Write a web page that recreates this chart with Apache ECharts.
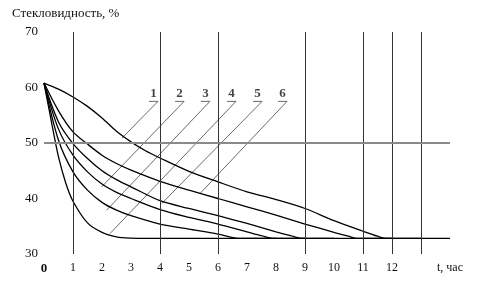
<!DOCTYPE html>
<html>
<head>
<meta charset="utf-8">
<script src="https://cdn.jsdelivr.net/npm/echarts@6/dist/echarts.min.js"></script>
<style>html,body{margin:0;padding:0;background:#fff}#c{width:480px;height:290px}</style>
</head>
<body>
<div id="c"></div>
<script>
// Curves: [t (hours), vitreousness %], named by their labels on the chart
var curve1 = [[0,60.8],[0.5,59.7],[1,58.3],[1.5,56.6],[2,54.5],[2.5,52.1],[3,50.2],[3.5,48.6],[4,47.3],[5,44.9],[6,43.0],[7,41.2],[8,39.8],[9,38.2],[10,36.0],[11,34.1],[11.5,33.2],[11.8,32.8],[13,32.8]];
var curve6 = [[0,60.8],[0.5,55.8],[1,52.0],[1.5,49.8],[2,47.8],[2.5,46.3],[3,45.1],[4,43.1],[5,41.5],[6,40.0],[7,38.5],[8,37.0],[9,35.4],[10,33.9],[10.5,33.2],[10.8,32.8],[12,32.8]];
var curve5 = [[0,60.8],[0.5,53.8],[1,49.9],[1.5,47.2],[2,45.0],[2.5,43.4],[3,42.1],[4,39.6],[5,38.2],[6,36.9],[7,35.5],[8,34.0],[8.5,33.3],[8.9,32.8],[10,32.8]];
var curve2 = [[0,60.8],[0.5,52.5],[1,47.8],[1.5,44.8],[2,42.6],[2.5,41.1],[3,40.0],[4,38.0],[5,36.6],[6,35.4],[7,34.0],[7.5,33.3],[7.9,32.8],[9,32.8]];
var curve3 = [[0,60.8],[0.5,50.5],[1,44.8],[1.5,41.5],[2,39.3],[2.5,37.9],[3,36.9],[4,35.4],[5,34.5],[6,33.6],[6.4,33.1],[6.7,32.8],[8,32.8]];
var curve4 = [[0,60.8],[0.25,54.0],[0.5,47.5],[0.75,42.8],[1,39.5],[1.5,35.6],[2,33.9],[2.5,33.1],[3,32.85],[3.5,32.8],[14,32.8]];

// Curve labels and their leader lines (data units)
var labelNames = ['1','2','3','4','5','6'];
var leaderTopT = [3.93, 4.83, 5.72, 6.62, 7.52, 8.38];
var leaderTopV = 57.5;
var leaderEndT = [2.69, 1.99, 2.16, 2.28, 4.06, 5.38];
var leaderEndV = [50.9, 42.1, 37.9, 33.7, 39.1, 40.9];
var underlineLen = 0.31;

// Reference grid lines
var vLines = [1, 4, 6, 9, 11, 12, 13];
var hLine = 50;

// Axis ticks
var xTicks = [0,1,2,3,4,5,6,7,8,9,10,11,12];
var xName = 't, час';
var yTicks = [30,40,50,60,70];
var yTitle = 'Стекловидность, %';

var serif = 'Liberation Serif';
var curves = [curve1, curve6, curve5, curve2, curve3, curve4];
var series = [];

series.push({
  type: 'line', data: [], silent: true,
  markLine: {
    silent: true, symbol: 'none', label: {show: false},
    data: vLines.map(function (t) { return {xAxis: t, lineStyle: {color: '#333', width: 1, type: 'solid'}}; })
      .concat([{yAxis: hLine, lineStyle: {color: '#8a8a8a', width: 2, type: 'solid'}}])
  }
});

curves.forEach(function (d) {
  series.push({
    type: 'line', data: d, smooth: 0.3, showSymbol: false, symbol: 'none',
    lineStyle: {color: '#000', width: 1.3}, silent: true, z: 3
  });
});

labelNames.forEach(function (n, i) {
  series.push({
    type: 'line', symbol: 'none', silent: true, z: 2,
    data: [[leaderTopT[i] - underlineLen, leaderTopV], [leaderTopT[i], leaderTopV], [leaderEndT[i], leaderEndV[i]]],
    lineStyle: {color: '#444', width: 0.8}
  });
});

series.push({
  type: 'scatter', silent: true, symbolSize: 1, itemStyle: {color: 'rgba(0,0,0,0)'},
  data: labelNames.map(function (n, i) { return [leaderTopT[i] - underlineLen / 2, leaderTopV, n]; }),
  label: {
    show: true, position: 'top', distance: 1,
    formatter: function (p) { return p.value[2]; },
    fontFamily: serif, fontSize: 13, fontWeight: 'bold', color: '#111'
  },
  z: 5
});

var chart = echarts.init(document.getElementById('c'), null, {renderer: 'canvas'});
chart.setOption({
  animation: false,
  backgroundColor: '#fff',
  title: {
    text: yTitle, left: 12, top: 7, padding: 0,
    textStyle: {fontFamily: serif, fontSize: 13, fontWeight: 'normal', color: '#111'}
  },
  grid: {left: 44, right: 30, top: 32, bottom: 36},
  xAxis: {
    type: 'value', min: 0, max: 14, interval: 1,
    axisLine: {show: false}, axisTick: {show: false}, splitLine: {show: false},
    axisLabel: {
      margin: 8, fontFamily: serif, fontSize: 12, color: '#111', showMaxLabel: true, showMinLabel: true,
      formatter: function (v) {
        if (v === 0) return '{b|0}';
        if (xTicks.indexOf(v) >= 0) return String(v);
        if (v === 14) return xName;
        return '';
      },
      rich: {b: {fontFamily: serif, fontSize: 13, fontWeight: 'bold', color: '#111'}}
    }
  },
  yAxis: {
    type: 'value', min: yTicks[0], max: yTicks[yTicks.length - 1], interval: 10,
    axisLine: {show: false}, axisTick: {show: false}, splitLine: {show: false},
    axisLabel: {margin: 6, fontFamily: serif, fontSize: 13, color: '#111'}
  },
  series: series
});
</script>
</body>
</html>
